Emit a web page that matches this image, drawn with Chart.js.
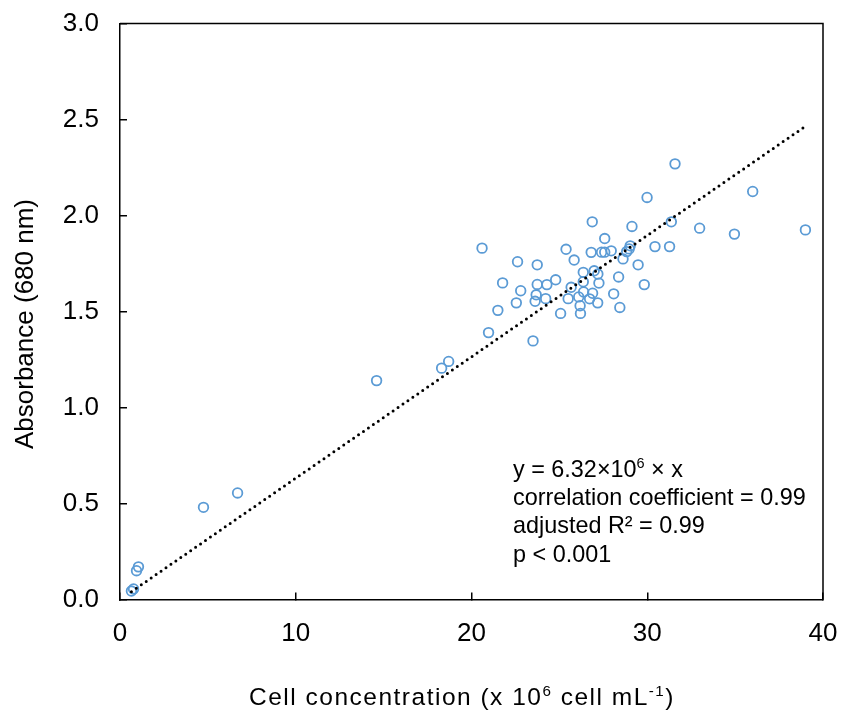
<!DOCTYPE html>
<html><head><meta charset="utf-8">
<script src="https://cdn.jsdelivr.net/npm/chart.js@4.4.1/dist/chart.umd.min.js"></script>
<style>html,body{margin:0;padding:0;background:#fff;}#wrap{width:845px;height:716px;position:relative;}</style>
</head><body><div id="wrap"><canvas id="c" width="845" height="716"></canvas></div>
<script>
// Cell concentration (x 10^6 cells/mL)
const cellConc = [0.65,0.77,0.94,1.05,4.75,6.69,14.6,18.3,18.7,20.6,20.97,21.5,21.77,22.55,22.62,22.8,23.5,23.62,23.68,23.74,23.74,24.22,24.29,24.79,25.07,25.38,25.5,25.67,25.84,26.1,26.18,26.2,26.36,26.36,26.38,26.72,26.81,26.87,26.89,26.98,27.18,27.19,27.25,27.4,27.58,27.58,27.95,28.09,28.37,28.44,28.62,28.83,28.97,29.03,29.13,29.48,29.83,29.99,30.44,31.27,31.37,31.58,32.98,34.96,36.0,39.0];
// Absorbance at 680 nm
const absorbance = [0.044,0.055,0.15,0.17,0.48,0.555,1.14,1.205,1.24,1.83,1.39,1.506,1.649,1.545,1.759,1.608,1.347,1.553,1.587,1.743,1.641,1.567,1.64,1.665,1.49,1.824,1.567,1.626,1.768,1.576,1.53,1.49,1.704,1.655,1.602,1.566,1.808,1.967,1.595,1.712,1.545,1.695,1.648,1.809,1.809,1.88,1.816,1.592,1.68,1.521,1.774,1.812,1.826,1.842,1.943,1.743,1.64,2.094,1.838,1.838,1.967,2.269,1.934,1.903,2.125,1.925];
// Regression line end points (y = 6.32e6 * x)
const fitX = [0.65, 39.0];
const fitY = [0.041, 2.465];
const xTicks = [0,10,20,30,40];
const yTicks = [0,0.5,1.0,1.5,2.0,2.5,3.0];
const yTitleParts = [["Absorbance (680 nm)", false]];
const xTitleParts = [["Cell concentration (x 10", false],["6", true],[" cell mL", false],["-1", true],[")", false]];
const annotLines = [
  [["y = 6.32×10", false],["6", true],[" × x", false]],
  [["correlation coefficient = 0.99", false]],
  [["adjusted R² = 0.99", false]],
  [["p < 0.001", false]]
];

const FONT = '"Liberation Sans", Arial, sans-serif';

function measureParts(ctx, parts, size, spacing) {
  let total = 0;
  const pieces = parts.map(([t, sup]) => {
    const fs = sup ? size * 0.62 : size;
    ctx.font = fs + 'px ' + FONT;
    ctx.letterSpacing = spacing + 'px';
    const w = ctx.measureText(t).width;
    total += w;
    return {t, sup, fs, w};
  });
  return {pieces, total};
}
function renderParts(ctx, parts, size, spacing, x, y, align) {
  const {pieces, total} = measureParts(ctx, parts, size, spacing);
  let cx = align === 'center' ? x - total / 2 : x;
  ctx.textAlign = 'left';
  ctx.textBaseline = 'alphabetic';
  for (const p of pieces) {
    ctx.font = p.fs + 'px ' + FONT;
    ctx.letterSpacing = spacing + 'px';
    ctx.fillText(p.t, cx, p.sup ? y - size * 0.38 : y);
    cx += p.w;
  }
  ctx.letterSpacing = '0px';
}

const textPlugin = {
  id: 'texts',
  afterDraw(chart) {
    const ctx = chart.ctx;
    const a = chart.chartArea;
    ctx.save();
    ctx.strokeStyle = '#000';
    ctx.lineWidth = 1.5;
    ctx.beginPath();
    ctx.moveTo(a.left, a.top); ctx.lineTo(a.right, a.top); ctx.lineTo(a.right, a.bottom);
    ctx.stroke();
    ctx.fillStyle = '#000';
    renderParts(ctx, xTitleParts, 24.5, 1.5, 462, 705, 'center');
    ctx.save();
    ctx.translate(33, 324);
    ctx.rotate(-Math.PI / 2);
    renderParts(ctx, yTitleParts, 26, 0, 0, 0, 'center');
    ctx.restore();
    let by = 476.5;
    for (const line of annotLines) {
      renderParts(ctx, line, 23.4, 0, 513, by, 'left');
      by += 28.4;
    }
    ctx.restore();
  }
};

const tickFont = {family: FONT, size: 26};
new Chart(document.getElementById('c'), {
  data: {
    datasets: [
      {
        type: 'line',
        data: fitX.map((x, i) => ({x, y: fitY[i]})),
        borderColor: '#000',
        borderWidth: 3,
        borderDash: [0, 6],
        borderCapStyle: 'round',
        pointRadius: 0,
        fill: false,
        tension: 0
      },
      {
        type: 'scatter',
        data: cellConc.map((x, i) => ({x, y: absorbance[i]})),
        pointStyle: 'circle',
        pointRadius: 4.8,
        pointBorderWidth: 1.8,
        borderColor: '#5B9BD5',
        backgroundColor: 'rgba(255,255,255,0)'
      }
    ]
  },
  options: {
    responsive: false,
    animation: false,
    devicePixelRatio: 1,
    layout: {padding: {left: 0, right: 22, top: 23.5, bottom: 0}},
    plugins: {legend: {display: false}, tooltip: {enabled: false}},
    scales: {
      x: {
        type: 'linear', min: 0, max: 40,
        afterBuildTicks: s => { s.ticks = xTicks.map(v => ({value: v})); },
        afterFit: s => { s.height = 116.5; s.paddingLeft = 0; s.paddingRight = 0; },
        ticks: {font: tickFont, color: '#000', padding: 26, callback: v => String(v)},
        grid: {display: true, drawOnChartArea: false, drawTicks: true, tickLength: -7, color: '#000', lineWidth: 1.5},
        border: {display: true, color: '#000', width: 1.5}
      },
      y: {
        type: 'linear', min: 0, max: 3,
        afterBuildTicks: s => { s.ticks = yTicks.map(v => ({value: v})); },
        afterFit: s => { s.width = 120; s.paddingTop = 0; s.paddingBottom = 0; },
        ticks: {font: tickFont, color: '#000', padding: 28, callback: v => Number(v).toFixed(1)},
        grid: {display: true, drawOnChartArea: false, drawTicks: true, tickLength: -7, color: '#000', lineWidth: 1.5},
        border: {display: true, color: '#000', width: 1.5}
      }
    }
  },
  plugins: [textPlugin]
});
</script></body></html>
